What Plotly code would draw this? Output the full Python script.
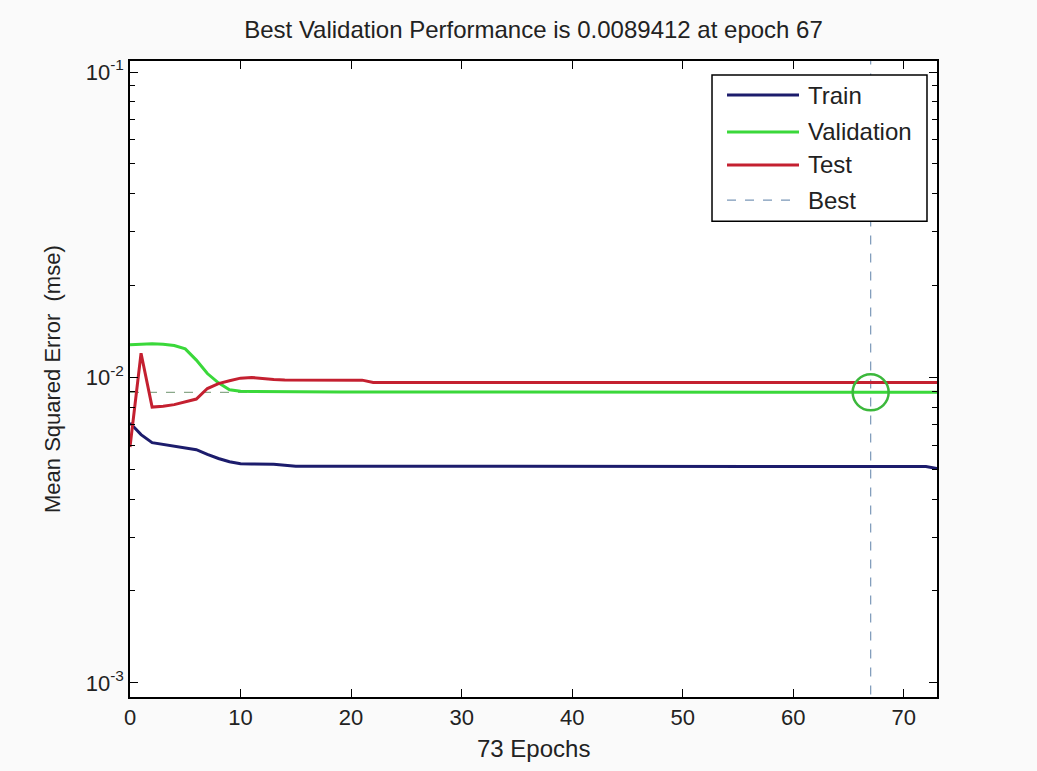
import plotly.graph_objects as go

epochs = list(range(0, 74))

train_mse = [
    0.00710, 0.00650, 0.00612, 0.00603, 0.00596, 0.00588, 0.00580, 0.00560, 0.00543, 0.00530,
    0.00522, 0.00521, 0.00521, 0.00520, 0.00516, 0.00512, 0.00512, 0.00512, 0.00512, 0.00512,
    0.00512, 0.00512, 0.00512, 0.00512, 0.00512, 0.00512, 0.00512, 0.00512, 0.00512, 0.00512,
    0.00512, 0.00512, 0.00512, 0.00512, 0.00512, 0.00512, 0.00512, 0.00512, 0.00512, 0.00512,
    0.00512, 0.00512, 0.00512, 0.00512, 0.00512, 0.00512, 0.00512, 0.00512, 0.00512, 0.00512,
    0.00512, 0.00512, 0.00512, 0.00512, 0.00512, 0.00512, 0.00512, 0.00512, 0.00512, 0.00512,
    0.00512, 0.00512, 0.00512, 0.00512, 0.00512, 0.00512, 0.00512, 0.00512, 0.00512, 0.00512,
    0.00512, 0.00512, 0.00511, 0.00503,
]

validation_mse = [
    0.01280, 0.01288, 0.01290, 0.01285, 0.01272, 0.01240, 0.01140, 0.01030, 0.00960, 0.00912,
    0.00902, 0.00900, 0.00899, 0.00897, 0.00896, 0.00896, 0.00896, 0.00896, 0.00896, 0.00896,
    0.00896, 0.00896, 0.00895, 0.00895, 0.00895, 0.00895, 0.00895, 0.00895, 0.00895, 0.00895,
    0.00895, 0.00895, 0.00895, 0.00895, 0.00895, 0.00895, 0.00895, 0.00895, 0.00895, 0.00895,
    0.00895, 0.00895, 0.00895, 0.00895, 0.00895, 0.00895, 0.00895, 0.00895, 0.00895, 0.00895,
    0.00895, 0.00895, 0.00895, 0.00895, 0.00895, 0.00895, 0.00895, 0.00895, 0.00895, 0.00895,
    0.00895, 0.00895, 0.00895, 0.00895, 0.00895, 0.00895, 0.00895, 0.0089412, 0.00895, 0.00895,
    0.00895, 0.00895, 0.00895, 0.00895,
]

test_mse = [
    0.00592, 0.01200, 0.00800, 0.00805, 0.00815, 0.00830, 0.00850, 0.00920, 0.00955, 0.00975,
    0.00995, 0.01000, 0.00990, 0.00985, 0.00982, 0.00981, 0.00981, 0.00981, 0.00981, 0.00981,
    0.00981, 0.00980, 0.00963, 0.00962, 0.00962, 0.00962, 0.00962, 0.00962, 0.00962, 0.00962,
    0.00962, 0.00962, 0.00962, 0.00962, 0.00962, 0.00962, 0.00962, 0.00962, 0.00962, 0.00962,
    0.00962, 0.00962, 0.00962, 0.00962, 0.00962, 0.00962, 0.00962, 0.00962, 0.00962, 0.00962,
    0.00962, 0.00962, 0.00962, 0.00962, 0.00962, 0.00962, 0.00962, 0.00962, 0.00962, 0.00962,
    0.00962, 0.00962, 0.00962, 0.00962, 0.00962, 0.00962, 0.00962, 0.00962, 0.00962, 0.00962,
    0.00962, 0.00962, 0.00962, 0.00962,
]

best_epoch = 67
best_perf = 0.0089412

x_ticks = [0, 10, 20, 30, 40, 50, 60, 70]
y_ticks = [0.001, 0.01, 0.1]
y_tick_text = ["10<sup>-3</sup>", "10<sup>-2</sup>", "10<sup>-1</sup>"]
y_minor = [0.002, 0.003, 0.004, 0.005, 0.006, 0.007, 0.008, 0.009,
           0.02, 0.03, 0.04, 0.05, 0.06, 0.07, 0.08, 0.09]

legend_names = ["Train", "Validation", "Test", "Best"]

C_TRAIN = "#1c1c6c"
C_VAL = "#3ad83a"
C_TEST = "#c42030"
C_BEST_V = "#7b98b8"
C_BEST_H = "#8aa88a"
FONT = "Liberation Sans, Arial, sans-serif"
TXT = "#222222"

fig = go.Figure()

# best lines
fig.add_trace(go.Scatter(x=[best_epoch, best_epoch], y=[0.0008, 0.2], mode="lines",
                         line=dict(color=C_BEST_V, width=1.2, dash="dash"), showlegend=False,
                         hoverinfo="skip"))
fig.add_trace(go.Scatter(x=[epochs[0], epochs[-1]], y=[best_perf, best_perf], mode="lines",
                         line=dict(color=C_BEST_H, width=1.2, dash="dash"), showlegend=False,
                         hoverinfo="skip"))

fig.add_trace(go.Scatter(x=epochs, y=train_mse, mode="lines", name="Train",
                         line=dict(color=C_TRAIN, width=3), showlegend=False))
fig.add_trace(go.Scatter(x=epochs, y=validation_mse, mode="lines", name="Validation",
                         line=dict(color=C_VAL, width=3), showlegend=False))
fig.add_trace(go.Scatter(x=epochs, y=test_mse, mode="lines", name="Test",
                         line=dict(color=C_TEST, width=3), showlegend=False))

fig.add_trace(go.Scatter(x=[best_epoch], y=[best_perf], mode="markers",
                         marker=dict(symbol="circle-open", size=36, color="#3cb83c",
                                     line=dict(width=2.5, color="#3cb83c")),
                         showlegend=False))

axis_common = dict(showline=True, linecolor="black", linewidth=1.5, mirror="allticks",
                   ticks="inside", ticklen=8, tickwidth=1.2, tickcolor="black",
                   showgrid=False, zeroline=False,
                   tickfont=dict(family=FONT, size=22, color=TXT))

fig.update_xaxes(range=[0, 73], tickvals=x_ticks, **axis_common)
fig.update_yaxes(type="log", range=[-3.046, -0.964], tickvals=y_ticks, ticktext=y_tick_text,
                 minor=dict(tickvals=y_minor, ticks="inside", ticklen=5, tickwidth=1.2,
                            tickcolor="black", showgrid=False),
                 **axis_common)

# manual legend
shapes = [dict(type="rect", xref="paper", yref="paper", x0=0.7212, x1=0.9876, y0=0.748, y1=0.978,
               line=dict(color="black", width=1.5), fillcolor="white", layer="above")]
annotations = []
leg_y = [0.9465, 0.8884, 0.8365, 0.7814]
leg_styles = [(C_TRAIN, 3, "solid"), (C_VAL, 3, "solid"), (C_TEST, 3, "solid"), (C_BEST_V, 1.2, "dash")]
for name, yy, (col, w, d) in zip(legend_names, leg_y, leg_styles):
    shapes.append(dict(type="line", xref="paper", yref="paper", x0=0.7398, x1=0.829, y0=yy, y1=yy,
                       line=dict(color=col, width=w, dash=d), layer="above"))
    annotations.append(dict(xref="paper", yref="paper", x=0.838, y=yy, text=name, showarrow=False,
                            xanchor="left", yanchor="middle",
                            font=dict(family=FONT, size=24, color=TXT)))

annotations.append(dict(xref="paper", yref="paper", x=0.5, y=0, yshift=-51, text="73 Epochs",
                        showarrow=False, xanchor="center", yanchor="middle",
                        font=dict(family=FONT, size=24, color=TXT)))
annotations.append(dict(xref="paper", yref="paper", x=0, y=0.5, xshift=-78,
                        text="Mean Squared Error  (mse)", textangle=-90, showarrow=False,
                        xanchor="center", yanchor="middle",
                        font=dict(family=FONT, size=22, color=TXT)))

fig.update_layout(
    width=1037, height=771,
    margin=dict(l=130, r=100, t=61, b=74),
    paper_bgcolor="#fafafa", plot_bgcolor="white",
    title=dict(text="Best Validation Performance is 0.0089412 at epoch 67",
               x=(130 + 937) / 2 / 1037, xanchor="center", y=1 - 30 / 771, yanchor="middle",
               font=dict(family=FONT, size=24, color=TXT)),
    shapes=shapes, annotations=annotations, showlegend=False,
)

fig.write_html("out.html", post_script="document.body.style.margin='0';",
               config={"displayModeBar": False})
